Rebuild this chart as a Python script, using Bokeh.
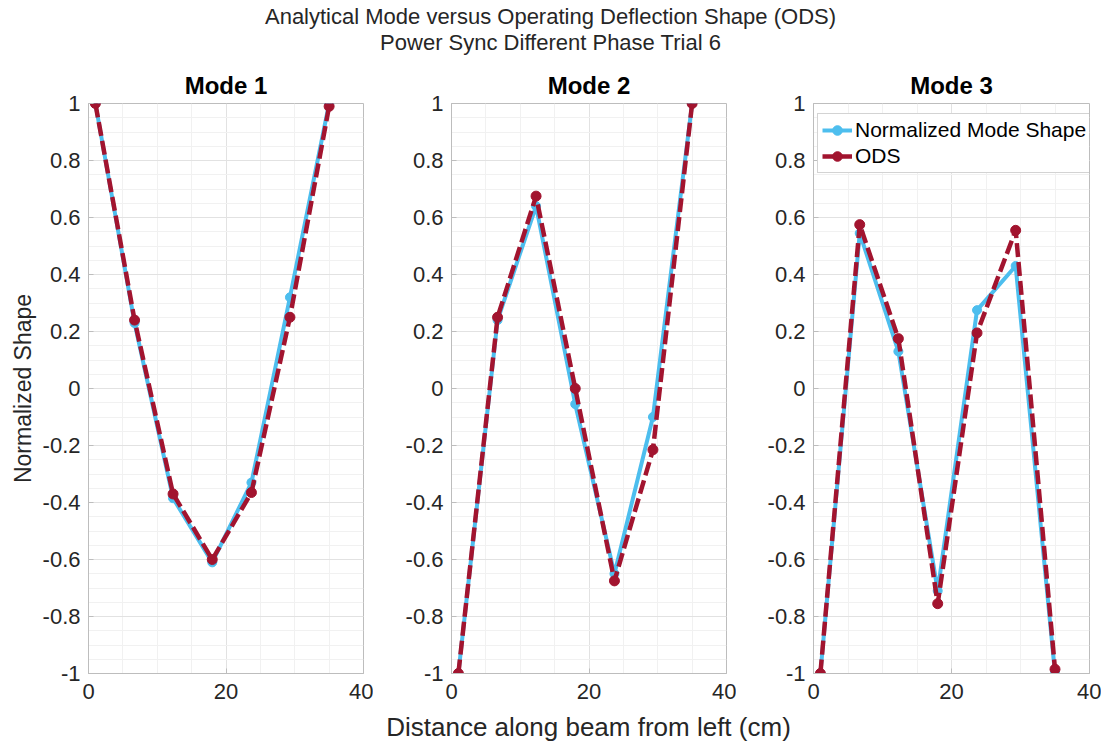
from bokeh.plotting import figure
from bokeh.layouts import column, row
from bokeh.models import Range1d, FixedTicker, CustomJSTickFormatter, Div, Spacer
from bokeh.embed import file_html
from bokeh.resources import INLINE
import numpy as np

# ---- data ----
x_cm = [1, 6.7, 12.3, 18, 23.7, 29.3, 35]
mode_titles = ["Mode 1", "Mode 2", "Mode 3"]
mode1_shape = [1.0, 0.23, -0.385, -0.61, -0.33, 0.32, 1.0]
mode1_ods = [1.0, 0.24, -0.37, -0.60, -0.365, 0.25, 0.99]
mode2_shape = [-1.0, 0.24, 0.64, -0.055, -0.65, -0.10, 1.0]
mode2_ods = [-1.0, 0.25, 0.675, 0.0, -0.675, -0.215, 1.0]
mode3_shape = [-1.0, 0.545, 0.13, -0.71, 0.275, 0.43, -1.0]
mode3_ods = [-1.0, 0.575, 0.175, -0.755, 0.195, 0.555, -0.985]
x_ticks = [0, 20, 40]
y_ticks = [-1, -0.8, -0.6, -0.4, -0.2, 0, 0.2, 0.4, 0.6, 0.8, 1]

BLUE = "#4DBEEE"
RED = "#A2142F"
GREY = "#bdbdbd"
TXT = "#262626"
FONT = "Liberation Sans"

x_minor = [v for v in np.arange(0, 40.01, 5) if v not in x_ticks]
y_minor = [round(v, 2) for v in np.arange(-1, 1.001, 0.05)]


def make_panel(title, shape, ods, left, right, fw=275, ylabel=None, legend=False):
    p = figure(frame_width=fw, frame_height=570,
               x_range=Range1d(0, 40), y_range=Range1d(-1, 1),
               output_backend="svg", toolbar_location=None,
               min_border_left=left, min_border_right=right,
               min_border_top=42, min_border_bottom=38,
               title=title)
    p.title.text_font = FONT
    p.title.text_font_size = "24px"
    p.title.text_font_style = "bold"
    p.title.text_color = "black"
    p.title.align = "center"
    p.title.standoff = 10

    p.xaxis.ticker = FixedTicker(ticks=x_ticks, minor_ticks=x_minor)
    p.yaxis.ticker = FixedTicker(ticks=y_ticks, minor_ticks=y_minor)
    p.yaxis.formatter = CustomJSTickFormatter(code="return Number(tick.toFixed(2)).toString();")
    for ax in (p.xaxis[0], p.yaxis[0]):
        ax.axis_line_color = GREY
        ax.major_tick_line_color = GREY
        ax.major_tick_in = 5
        ax.major_tick_out = 0
        ax.minor_tick_in = 0
        ax.minor_tick_out = 0
        ax.major_label_text_font = FONT
        ax.major_label_text_font_size = "22px"
        ax.major_label_text_color = TXT
        ax.axis_label_text_font = FONT
        ax.axis_label_text_font_style = "normal"
        ax.axis_label_text_color = TXT
    p.xaxis.major_label_standoff = 10
    p.yaxis.major_label_standoff = 8
    if ylabel:
        p.yaxis.axis_label = ylabel
        p.yaxis.axis_label_text_font_size = "23px"
        p.yaxis.axis_label_standoff = 4

    p.outline_line_color = GREY
    for g in (p.xgrid[0], p.ygrid[0]):
        g.grid_line_color = "#e2e2e2"
        g.minor_grid_line_color = "#f1f1f1"

    kw_b = dict(legend_label="Normalized Mode Shape") if legend else {}
    kw_r = dict(legend_label="ODS") if legend else {}
    p.line(x_cm, shape, line_color=BLUE, line_width=4, **kw_b)
    p.scatter(x_cm, shape, size=9, fill_color=BLUE, line_color=BLUE, **kw_b)
    p.line(x_cm, ods, line_color=RED, line_width=4.5, line_dash="14 5", **kw_r)
    p.scatter(x_cm, ods, size=10, fill_color=RED, line_color=RED, **kw_r)

    if legend:
        lg = p.legend[0]
        lg.location = (4, 500)
        lg.label_text_font = FONT
        lg.label_text_font_size = "21px"
        lg.label_text_color = "black"
        lg.label_height = 24
        lg.glyph_height = 24
        lg.glyph_width = 30
        lg.label_standoff = 3
        lg.padding = 4
        lg.spacing = 2
        lg.margin = 0
        lg.border_line_color = "#a8a8a8"
        lg.border_line_width = 1
        lg.background_fill_color = "white"
        lg.background_fill_alpha = 1.0
    return p


p1 = make_panel(mode_titles[0], mode1_shape, mode1_ods, 88, 10, ylabel="Normalized Shape")
p2 = make_panel(mode_titles[1], mode2_shape, mode2_ods, 78, 10)
p3 = make_panel(mode_titles[2], mode3_shape, mode3_ods, 77, 12, fw=276, legend=True)

title_div = Div(
    text="Analytical Mode versus Operating Deflection Shape (ODS)<br>Power Sync Different Phase Trial 6",
    width=1101, height=61, margin=(0, 0, 0, 0),
    styles={"text-align": "center", "font-size": "22px", "line-height": "26px",
            "padding-top": "4px", "box-sizing": "border-box",
            "font-family": "Liberation Sans, Arial, sans-serif", "color": TXT,
            "width": "1101px"})

xlabel_div = Div(
    text="Distance along beam from left (cm)",
    width=601, height=32, margin=(0, 0, 0, 0),
    styles={"text-align": "center", "font-size": "26px", "line-height": "32px",
            "font-family": "Liberation Sans, Arial, sans-serif", "color": TXT,
            "width": "601px"})

layout = column(title_div,
                row(p1, p2, p3, spacing=0),
                row(Spacer(width=288, height=32, margin=(0, 0, 0, 0)), xlabel_div, spacing=0),
                spacing=0)

open("out.html", "w").write(file_html(layout, INLINE))
